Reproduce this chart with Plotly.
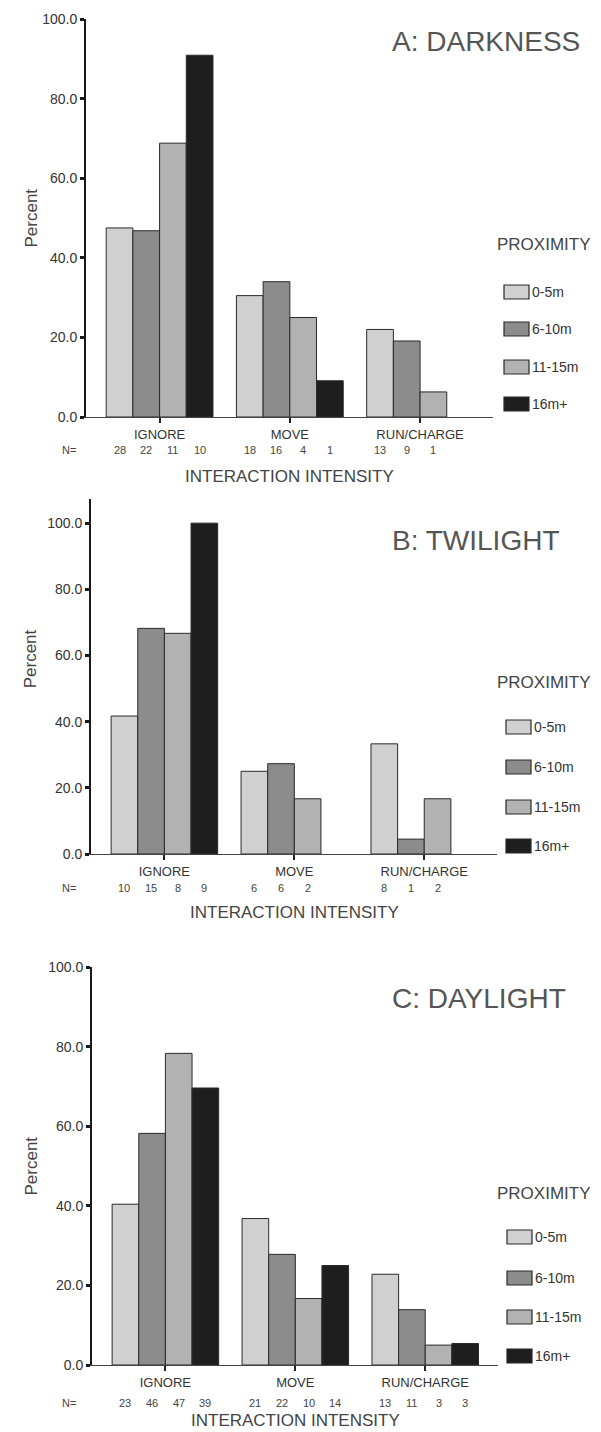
import plotly.graph_objects as go

# ---------------- data ----------------
categories = ["IGNORE", "MOVE", "RUN/CHARGE"]
proximity = ["0-5m", "6-10m", "11-15m", "16m+"]
colors = ["#d0d0d0", "#8c8c8c", "#b2b2b2", "#1e1e1e"]

# Panel A: darkness (percent by proximity class)
a_0_5 = [47.5, 30.5, 22.0]
a_6_10 = [46.8, 34.0, 19.1]
a_11_15 = [68.8, 25.0, 6.3]
a_16 = [90.9, 9.1, None]
a_n_0_5 = [28, 18, 13]
a_n_6_10 = [22, 16, 9]
a_n_11_15 = [11, 4, 1]
a_n_16 = [10, 1, None]

# Panel B: twilight
b_0_5 = [41.7, 25.0, 33.3]
b_6_10 = [68.2, 27.3, 4.5]
b_11_15 = [66.7, 16.7, 16.7]
b_16 = [100.0, None, None]
b_n_0_5 = [10, 6, 8]
b_n_6_10 = [15, 6, 1]
b_n_11_15 = [8, 2, 2]
b_n_16 = [9, None, None]

# Panel C: daylight
c_0_5 = [40.4, 36.8, 22.8]
c_6_10 = [58.2, 27.8, 13.9]
c_11_15 = [78.3, 16.7, 5.0]
c_16 = [69.6, 25.0, 5.4]
c_n_0_5 = [23, 21, 13]
c_n_6_10 = [46, 22, 11]
c_n_11_15 = [47, 10, 3]
c_n_16 = [39, 14, 3]

yticks = [0, 20, 40, 60, 80, 100]

panels = [
    dict(title="A: DARKNESS", vals=[a_0_5, a_6_10, a_11_15, a_16],
         ns=[a_n_0_5, a_n_6_10, a_n_11_15, a_n_16]),
    dict(title="B: TWILIGHT", vals=[b_0_5, b_6_10, b_11_15, b_16],
         ns=[b_n_0_5, b_n_6_10, b_n_11_15, b_n_16]),
    dict(title="C: DAYLIGHT", vals=[c_0_5, c_6_10, c_11_15, c_16],
         ns=[c_n_0_5, c_n_6_10, c_n_11_15, c_n_16]),
]

# ---------------- layout geometry (page pixels) ----------------
PAGE_OFF = 8          # default body margin of the html page
W, H = 601 - PAGE_OFF, 1432 - PAGE_OFF
FONT = "Liberation Sans, Arial, sans-serif"
BARGAP = 0.18

geo = [
    dict(xl=86, xr=493, yt=19, yb=417, ymax=100.0, title_y=42, percent_y=50,
         prox_y=244, leg_y=[292, 329, 367, 404], leg_x=504, nshift=-33, tshift=-59),
    dict(xl=91, xr=497, yt=499, yb=854, ymax=107.3, title_y=540, percent_y=59,
         prox_y=683, leg_y=[727, 767, 807, 846], leg_x=506, nshift=-34, tshift=-59),
    dict(xl=92, xr=498, yt=967, yb=1365, ymax=100.0, title_y=998, percent_y=50,
         prox_y=1193, leg_y=[1237, 1278, 1317, 1356], leg_x=507, nshift=-38, tshift=-55),
]


def px_x(x):
    return (x - PAGE_OFF) / W


def px_y(y):
    return 1 - (y - PAGE_OFF) / H


fig = go.Figure()
annotations = []
shapes = []

for p, (panel, g) in enumerate(zip(panels, geo)):
    sfx = "" if p == 0 else str(p + 1)
    xa, ya = "x" + sfx, "y" + sfx
    for j, (name, col) in enumerate(zip(proximity, colors)):
        fig.add_trace(go.Bar(
            x=categories, y=panel["vals"][j], name=name,
            marker=dict(color=col, line=dict(color="#2a2a2a", width=1)),
            xaxis=xa, yaxis=ya, showlegend=False,
            legendgroup=name,
        ))
    fig.update_layout(**{
        "xaxis" + sfx: dict(
            domain=[px_x(g["xl"]), px_x(g["xr"])], anchor=ya,
            type="category", categoryorder="array", categoryarray=categories,
            range=[-0.565, 2.56], showline=True, linecolor="#444", linewidth=1.3,
            ticks="outside", ticklen=5, tickwidth=2, tickcolor="#222",
            tickfont=dict(family=FONT, size=13, color="#333"),
            showgrid=False, zeroline=False, fixedrange=True, automargin=False,
        ),
        "yaxis" + sfx: dict(
            domain=[px_y(g["yb"]), px_y(g["yt"])], anchor=xa,
            range=[0, g["ymax"]], tickvals=yticks, tickformat=".1f",
            showline=True, linecolor="#1a1a1a", linewidth=2,
            ticks="outside", ticklen=4, tickwidth=2.5, tickcolor="#1a1a1a",
            tickfont=dict(family=FONT, size=14, color="#333"),
            showgrid=False, zeroline=False, fixedrange=True, automargin=False,
        ),
    })

    # N counts under each bar
    nbar = len(proximity)
    bw = (1 - BARGAP) / nbar
    annotations.append(dict(
        text="N=", xref="paper", x=px_x(60), yref=ya, y=0, yshift=g["nshift"],
        showarrow=False, font=dict(family=FONT, size=11, color="#444"),
    ))
    for j in range(nbar):
        for i, cat in enumerate(categories):
            n = panel["ns"][j][i]
            if n is None:
                continue
            annotations.append(dict(
                text=str(n), xref=xa, x=i + (j - (nbar - 1) / 2) * bw,
                yref=ya, y=0, yshift=g["nshift"], showarrow=False,
                font=dict(family=FONT, size=11, color="#444"),
            ))

    # axis titles
    annotations.append(dict(
        text="INTERACTION INTENSITY", xref=xa + " domain", x=0.5,
        yref=ya, y=0, yshift=g["tshift"], showarrow=False,
        font=dict(family=FONT, size=17, color="#444"),
    ))
    annotations.append(dict(
        text="Percent", textangle=-90, xref="paper", x=px_x(19),
        yref=ya, y=g["percent_y"], showarrow=False,
        font=dict(family=FONT, size=17, color="#444"),
    ))
    # panel title
    annotations.append(dict(
        text=panel["title"], xref="paper", x=px_x(390), xanchor="left",
        yref="paper", y=px_y(g["title_y"]), yanchor="middle", showarrow=False,
        font=dict(family=FONT, size=28, color="#555"),
    ))
    # legend (drawn per panel)
    annotations.append(dict(
        text="PROXIMITY", xref="paper", x=px_x(495), xanchor="left",
        yref="paper", y=px_y(g["prox_y"]), yanchor="middle", showarrow=False,
        font=dict(family=FONT, size=17, color="#444"),
    ))
    for j, (name, col) in enumerate(zip(proximity, colors)):
        cy = g["leg_y"][j]
        shapes.append(dict(
            type="rect", xref="paper", yref="paper",
            x0=px_x(g["leg_x"]), x1=px_x(g["leg_x"] + 25),
            y0=px_y(cy + 7), y1=px_y(cy - 7),
            fillcolor=col, line=dict(color="#2a2a2a", width=1.2),
        ))
        annotations.append(dict(
            text=name, xref="paper", x=px_x(g["leg_x"] + 26), xanchor="left",
            yref="paper", y=px_y(cy), yanchor="middle", showarrow=False,
            font=dict(family=FONT, size=14, color="#333"),
        ))

fig.update_layout(
    width=W, height=H,
    margin=dict(l=0, r=0, t=0, b=0, autoexpand=False),
    paper_bgcolor="white", plot_bgcolor="white",
    barmode="group", bargap=BARGAP, bargroupgap=0,
    showlegend=False,
    annotations=annotations, shapes=shapes,
    font=dict(family=FONT, color="#333"),
)

fig.write_html("out.html")
